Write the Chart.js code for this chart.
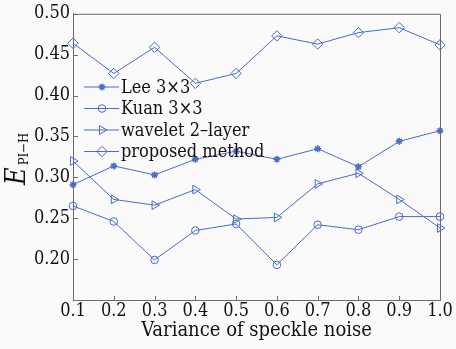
<!DOCTYPE html>
<html>
<head>
<meta charset="utf-8">
<script src="https://cdn.jsdelivr.net/npm/chart.js@4.4.1/dist/chart.umd.min.js"></script>
<style>
    html, body { margin: 0; padding: 0; background: #fafafa; }
    #wrap { width: 456px; height: 349px; }
</style>
</head>
<body>
<div id="wrap"><canvas id="noiseChart"></canvas></div>
<script>
const noiseLabels = ['0.1', '0.2', '0.3', '0.4', '0.5', '0.6', '0.7', '0.8', '0.9', '1.0'];
const yTickValues = [0.20, 0.25, 0.30, 0.35, 0.40, 0.45, 0.50];
const seriesNames = ['Lee 3\u00d73', 'Kuan 3\u00d73', 'wavelet 2\u2013layer', 'proposed method'];
const leeValues = [0.291, 0.314, 0.303, 0.322, 0.332, 0.322, 0.335, 0.313, 0.344, 0.357];
const kuanValues = [0.265, 0.246, 0.199, 0.235, 0.243, 0.193, 0.242, 0.236, 0.252, 0.252];
const waveletValues = [0.320, 0.273, 0.266, 0.285, 0.249, 0.251, 0.292, 0.305, 0.273, 0.238];
const proposedValues = [0.464, 0.427, 0.459, 0.415, 0.427, 0.473, 0.463, 0.477, 0.483, 0.462];

const lineColor = '#4a6bc6';
const axisColor = '#6b6b6b';
const serif = '"DejaVu Serif Condensed", "Liberation Serif", serif';

const markers = [
    { pointStyle: 'star', radius: 3.5, rotation: 0, borderWidth: 1.5 },
    { pointStyle: 'circle', radius: 3.8, rotation: 0, borderWidth: 1 },
    { pointStyle: 'triangle', radius: 5, rotation: 90, borderWidth: 1 },
    { pointStyle: 'rectRot', radius: 5.2, rotation: 0, borderWidth: 1 }
];

function makeDataset(i, values) {
    const m = markers[i];
    return {
        label: seriesNames[i],
        data: values,
        borderColor: lineColor,
        backgroundColor: 'rgba(0,0,0,0)',
        borderWidth: 1,
        tension: 0,
        pointStyle: m.pointStyle,
        pointRadius: m.radius,
        pointRotation: m.rotation,
        pointBorderWidth: m.borderWidth,
        pointBorderColor: lineColor,
        pointBackgroundColor: 'rgba(0,0,0,0)'
    };
}

// background, box border, inward ticks, legend and y title
const decorPlugin = {
    id: 'decor',
    beforeDraw(chart) {
        const ctx = chart.ctx;
        ctx.save();
        ctx.fillStyle = '#fafafa';
        ctx.fillRect(0, 0, chart.width, chart.height);
        ctx.restore();
    },
    afterDatasetsDraw(chart) {
        const ctx = chart.ctx;
        const area = chart.chartArea;
        const xScale = chart.scales.x;
        const yScale = chart.scales.y;
        ctx.save();
        ctx.strokeStyle = axisColor;
        ctx.lineWidth = 1;
        ctx.beginPath();
        ctx.moveTo(area.left, area.top + 0.5);
        ctx.lineTo(area.right + 0.5, area.top + 0.5);
        ctx.lineTo(area.right + 0.5, area.bottom);
        ctx.stroke();
        noiseLabels.forEach((lab, i) => {
            const px = Math.round(xScale.getPixelForValue(i)) + 0.5;
            ctx.beginPath();
            ctx.moveTo(px, area.bottom);
            ctx.lineTo(px, area.bottom - 4);
            ctx.stroke();
        });
        yTickValues.forEach(v => {
            const py = Math.round(yScale.getPixelForValue(v)) + 0.5;
            ctx.beginPath();
            ctx.moveTo(area.left, py);
            ctx.lineTo(area.left + 5, py);
            ctx.stroke();
        });

        // legend drawn inside the plot area
        ctx.font = '18px ' + serif;
        ctx.textBaseline = 'middle';
        ctx.textAlign = 'left';
        seriesNames.forEach((name, i) => {
            const y = 87 + i * 21.5;
            ctx.strokeStyle = lineColor;
            ctx.lineWidth = 1;
            ctx.beginPath();
            ctx.moveTo(84, y);
            ctx.lineTo(119, y);
            ctx.stroke();
            ctx.fillStyle = 'rgba(0,0,0,0)';
            ctx.lineWidth = markers[i].borderWidth;
            Chart.helpers.drawPoint(ctx, markers[i], 102, y);
            ctx.fillStyle = '#111';
            ctx.fillText(name, 121, y + 1);
        });

        // y axis title: italic E with subscript
        const cy = (area.top + area.bottom) / 2 + 2;
        ctx.translate(25, cy);
        ctx.rotate(-Math.PI / 2);
        ctx.fillStyle = '#111';
        ctx.textBaseline = 'alphabetic';
        ctx.font = 'italic 27px ' + serif;
        const wE = ctx.measureText('E').width;
        ctx.font = '13px ' + serif;
        const wS = ctx.measureText('PI\u2212H').width;
        const start = -(wE + 2 + wS) / 2;
        ctx.font = 'italic 27px ' + serif;
        ctx.fillText('E', start, 0);
        ctx.font = '13px ' + serif;
        ctx.fillText('PI\u2212H', start + wE + 2, 3);
        ctx.restore();
    }
};

const ctx = document.getElementById('noiseChart').getContext('2d');
new Chart(ctx, {
    type: 'line',
    data: {
        labels: noiseLabels,
        datasets: [
            makeDataset(0, leeValues),
            makeDataset(1, kuanValues),
            makeDataset(2, waveletValues),
            makeDataset(3, proposedValues)
        ]
    },
    options: {
        responsive: true,
        maintainAspectRatio: false,
        animation: false,
        layout: { padding: { top: 13, right: 16, left: 0, bottom: 0 } },
        plugins: {
            legend: { display: false },
            title: { display: false },
            tooltip: { enabled: false }
        },
        scales: {
            x: {
                offset: false,
                grid: { display: true, drawOnChartArea: false, drawTicks: false },
                border: { display: true, color: axisColor, width: 1 },
                ticks: {
                    color: '#111',
                    padding: 1,
                    maxRotation: 0,
                    autoSkip: false,
                    font: { family: serif, size: 18 }
                },
                title: {
                    display: true,
                    text: 'Variance of speckle noise',
                    color: '#111',
                    font: { family: serif, size: 20 },
                    padding: { top: 0, bottom: 6 }
                },
                afterFit(scale) { scale.height = 49; }
            },
            y: {
                min: 0.15,
                max: 0.50,
                afterBuildTicks(scale) {
                    scale.ticks = yTickValues.map(v => ({ value: v }));
                },
                grid: { display: true, drawOnChartArea: false, drawTicks: false },
                border: { display: true, color: axisColor, width: 1 },
                ticks: {
                    color: '#111',
                    padding: 3,
                    font: { family: serif, size: 18 },
                    callback: v => v.toFixed(2)
                },
                afterFit(scale) { scale.width = 73; }
            }
        }
    },
    plugins: [decorPlugin]
});
</script>
</body>
</html>
